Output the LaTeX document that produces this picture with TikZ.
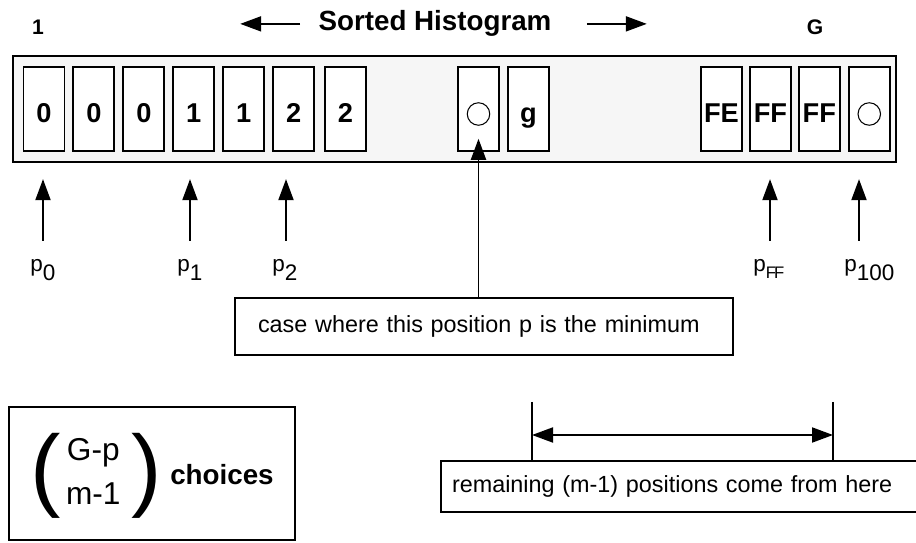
\documentclass[tikz,border=0pt]{standalone}
\usepackage{fontspec}
\setmainfont{Liberation Sans}
\usepackage{tikz}
\usetikzlibrary{positioning, arrows.meta}
\tikzstyle{histbox} = [rectangle, minimum width=17.66cm, minimum height=2.12cm, draw=black, line width=1.3pt, fill=gray!7]
\tikzstyle{cell} = [rectangle, minimum width=0.82cm, minimum height=1.68cm, inner sep=0pt, draw=black, line width=1.1pt, fill=white, text height=0.6cm, text depth=0.06cm, font=\fontsize{15.5}{17}\selectfont\bfseries]
\tikzstyle{ring} = [circle, minimum size=0.45cm, inner sep=0pt, draw=black, line width=0.6pt]
\tikzstyle{arrow} = [line width=1.1pt, -{Triangle[length=0.42cm, width=0.3cm]}]
\tikzstyle{dblarrow} = [line width=1.1pt, {Triangle[length=0.42cm, width=0.3cm]}-{Triangle[length=0.42cm, width=0.3cm]}]
\tikzstyle{tick} = [line width=1.1pt]
\tikzstyle{plabel} = [inner sep=0pt, anchor=base west, font=\fontsize{12.8}{15}\selectfont]
\tikzstyle{note} = [rectangle, draw=black, line width=1.1pt, align=left, font=\fontsize{13.3}{16}\selectfont]
\newcommand{\psub}[1]{\raisebox{-0.4em}{#1}}
\newcommand{\bigparen}[1]{\raisebox{-0.3cm}{\fontsize{52}{52}\selectfont #1}}
\def\gap{0.14cm}

\begin{document}
\begin{tikzpicture}[x=0.02cm, y=-0.02cm]
\useasboundingbox (0,0) rectangle (916,543);

% title and ends
\node (title) [inner sep=0pt, anchor=base, font=\fontsize{15.8}{18}\selectfont\bfseries] at (435,31) {Sorted Histogram};
\draw [arrow] ([xshift=-0.36cm]title.west) -- ([xshift=-1.56cm]title.west);
\draw [arrow] ([xshift=0.7cm]title.east) -- ([xshift=1.9cm]title.east);
\node (first) [inner sep=0pt, anchor=base, font=\fontsize{12}{14}\selectfont\bfseries] at (38,35) {1};
\node (last) [inner sep=0pt, anchor=base, font=\fontsize{12}{14}\selectfont\bfseries] at (815,35) {G};

% histogram
\node (hist) [histbox] at (454.5,109) {};
\node (c1) [cell] at (44,109) {0};
\node (c2) [cell, right=\gap of c1] {0};
\node (c3) [cell, right=\gap of c2] {0};
\node (c4) [cell, right=\gap of c3] {1};
\node (c5) [cell, right=\gap of c4] {1};
\node (c6) [cell, right=\gap of c5] {2};
\node (c7) [cell, right=0.18cm of c6] {2};

\node (c8) [cell] at (478.5,109) {};
\node (ring1) [ring, yshift=-0.1cm] at (c8) {};
\node (c9) [cell, right=\gap of c8] {g};

\node (c10) [cell] at (721.5,109) {FE};
\node (c11) [cell, right=0.12cm of c10] {FF};
\node (c12) [cell, right=0.12cm of c11] {FF};
\node (c13) [cell, right=\gap of c12] {};
\node (ring2) [ring, yshift=-0.1cm] at (c13) {};

% pointers
\coordinate (a0) at (43,241);
\coordinate (a1) at (190,241);
\coordinate (a2) at (286,241);
\coordinate (aFF) at (770,241);
\coordinate (a100) at (859,241);
\draw [arrow, shorten >=0.32cm] (a0) -- (a0 |- hist.south);
\draw [arrow, shorten >=0.32cm] (a1) -- (a1 |- hist.south);
\draw [arrow, shorten >=0.32cm] (a2) -- (a2 |- hist.south);
\draw [arrow, shorten >=0.32cm] (aFF) -- (aFF |- hist.south);
\draw [arrow, shorten >=0.32cm] (a100) -- (a100 |- hist.south);

\node (p0) [plabel] at (30,272) {p\psub{0}};
\node (p1) [plabel] at (177,272) {p\psub{1}};
\node (p2) [plabel] at (272,272) {p\psub{2}};
\node (pFF) [plabel] at (753,272) {p\raisebox{-0.28em}{\fontsize{9.5}{10}\selectfont F\kern-0.12em F}};
\node (p100) [plabel] at (844,272) {p\psub{100}};

% minimum case
\node (case) [note, text width=9.04cm, inner xsep=0.46cm, minimum height=1.14cm] at (484,326.5) {case where this position p is the minimum};
\draw [arrow, shorten >=0.26cm] (ring1.south |- case.north) -- (ring1.south);

% count of choices
\node (choose) [rectangle, draw=black, line width=1.1pt, minimum width=5.72cm, minimum height=2.66cm, text height=0.46cm, text depth=0cm] at (152,473.5)
  {\bigparen{(}\hspace{3pt}\raisebox{0.5cm}{\fontsize{18}{25.5}\selectfont\begin{tabular}[t]{@{}c@{}}G-p\\m-1\end{tabular}}\hspace{6pt}\bigparen{)}\hspace{5pt}{\fontsize{15.8}{18}\selectfont\bfseries choices}};

% remaining range
\node (rest) [note, text width=9.3cm, inner xsep=0.22cm, minimum height=1.02cm] at (684.5,486.5) {remaining (m-1) positions come from here};
\coordinate (tl) at (532,402);
\coordinate (tr) at (833,402);
\coordinate (ml) at (532,435);
\coordinate (mr) at (833,435);
\draw [tick] (tl) -- (tl |- rest.north);
\draw [tick] (tr) -- (tr |- rest.north);
\draw [dblarrow] (ml) -- (mr);

\end{tikzpicture}
\end{document}
